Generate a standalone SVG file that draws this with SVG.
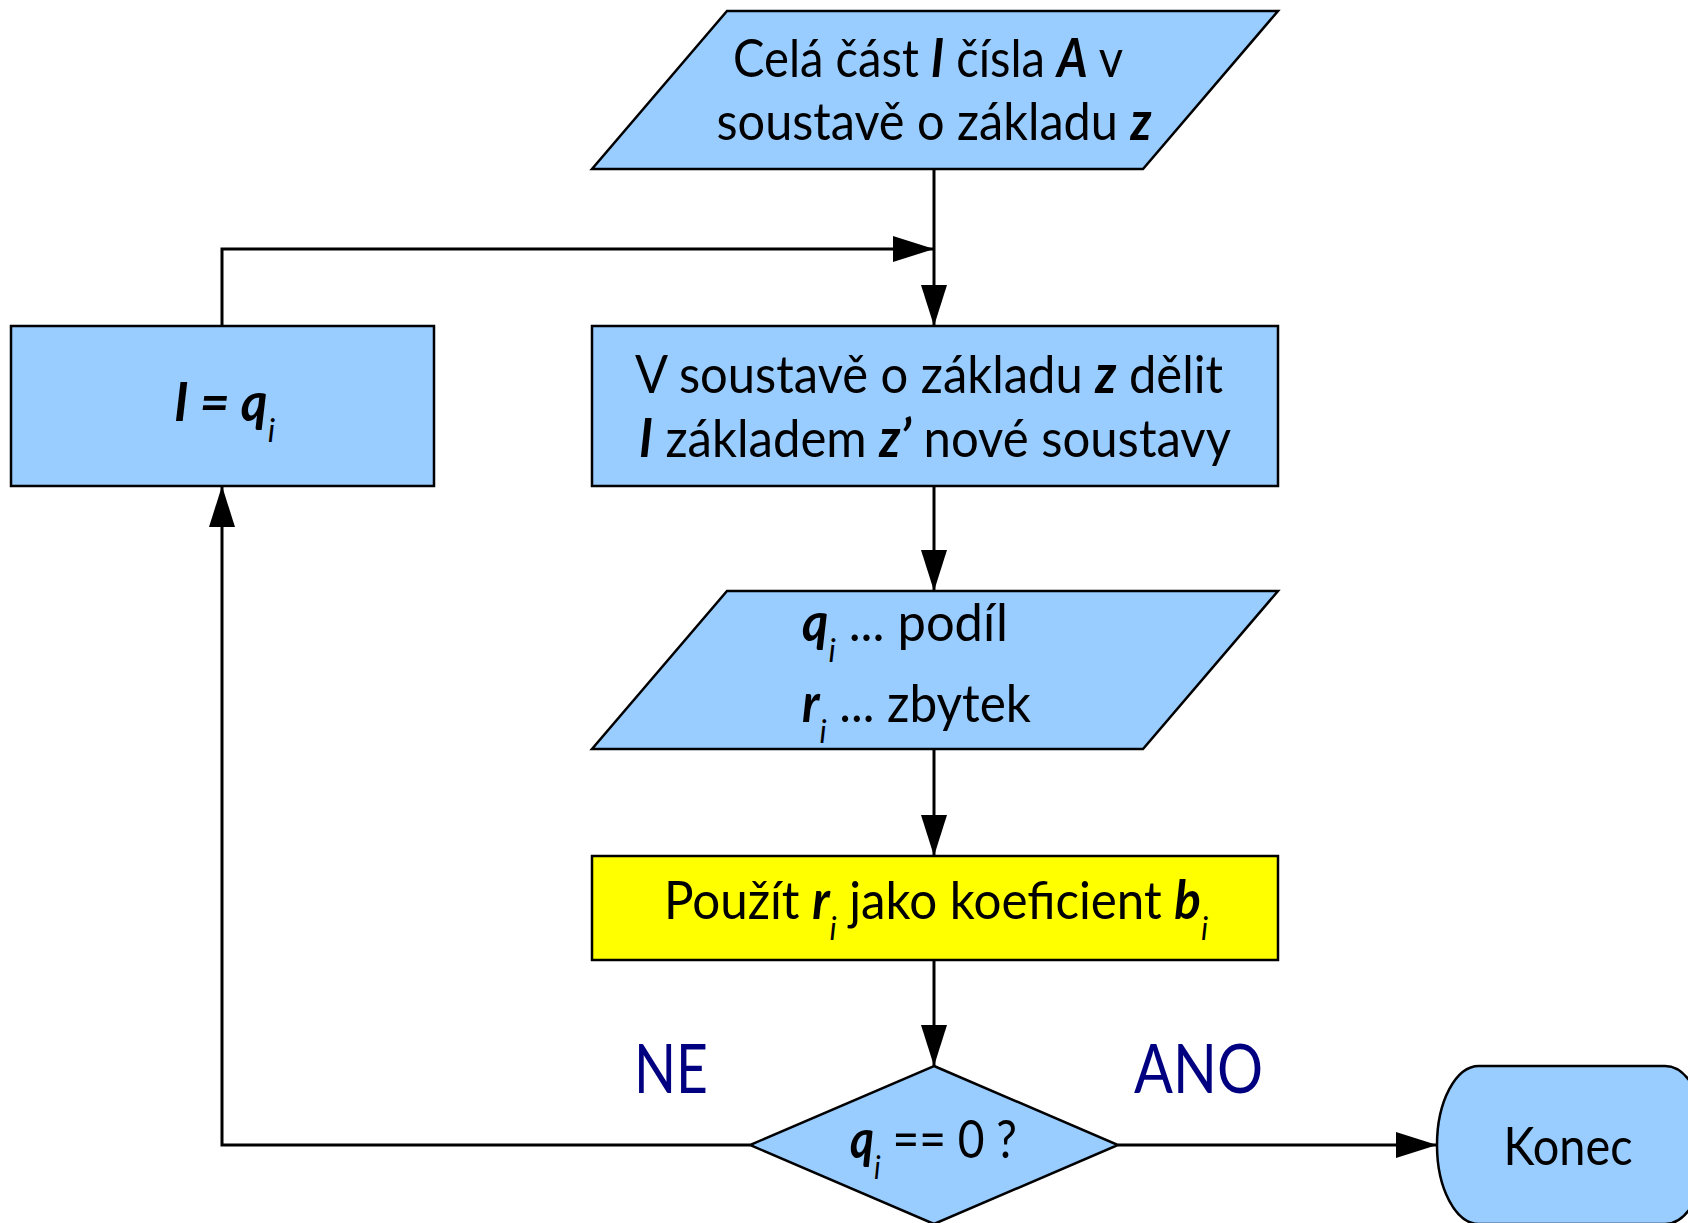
<svg xmlns="http://www.w3.org/2000/svg" width="1688" height="1223" viewBox="0 0 1688 1223">
<style>
.node{fill:#99ccff;stroke:#000;stroke-width:2.5}
.yel{fill:#ffff00;stroke:#000;stroke-width:2.5}
.conn{fill:none;stroke:#000;stroke-width:3}
text{font-family:Lato,"Open Sans","Noto Sans",sans-serif;font-size:53px;fill:#000}
.bi{font-weight:bold;font-style:italic}
.sub{font-style:italic;font-size:33px}
.lbl{font-size:68px;fill:#000080}
</style>
<defs>
<marker id="arr" markerUnits="userSpaceOnUse" markerWidth="42" markerHeight="28" refX="41" refY="13" orient="auto">
<path d="M0,0 L41,13 L0,26 z" fill="#000"/>
</marker>
</defs>
<rect width="1688" height="1223" fill="#fff"/>
<g id="connectors">
<path class="conn" d="M934,169 V326" marker-end="url(#arr)"/>
<path class="conn" d="M222,326 V249 H934" marker-end="url(#arr)"/>
<path class="conn" d="M934,486 V591" marker-end="url(#arr)"/>
<path class="conn" d="M934,749 V856" marker-end="url(#arr)"/>
<path class="conn" d="M934,960 V1066" marker-end="url(#arr)"/>
<path class="conn" d="M1118,1145 H1437" marker-end="url(#arr)"/>
<path class="conn" d="M750,1145 H222 V486" marker-end="url(#arr)"/>
</g>
<g id="start">
<polygon class="node" points="727,11 1278,11 1143,169 592,169"/>
<text x="928" y="77" text-anchor="middle" textLength="390" lengthAdjust="spacingAndGlyphs">Celá část <tspan class="bi">I</tspan> čísla <tspan class="bi">A</tspan> v</text>
<text x="934" y="140" text-anchor="middle" textLength="435" lengthAdjust="spacingAndGlyphs">soustavě o základu <tspan class="bi">z</tspan></text>
</g>
<g id="divide">
<rect class="node" x="592" y="326" width="686" height="160"/>
<text x="929" y="393" text-anchor="middle" textLength="588" lengthAdjust="spacingAndGlyphs">V soustavě o základu <tspan class="bi">z</tspan> dělit</text>
<text x="935" y="457" text-anchor="middle" textLength="592" lengthAdjust="spacingAndGlyphs"><tspan class="bi">I</tspan> základem <tspan class="bi">z’</tspan> nové soustavy</text>
</g>
<g id="assign">
<rect class="node" x="11" y="326" width="423" height="160"/>
<text x="174" y="421" textLength="101" lengthAdjust="spacingAndGlyphs"><tspan class="bi">I = q</tspan><tspan class="sub" dy="21">i</tspan></text>
</g>
<g id="result">
<polygon class="node" points="727,591 1278,591 1143,749 592,749"/>
<text x="802" y="641" textLength="206" lengthAdjust="spacingAndGlyphs"><tspan class="bi">q</tspan><tspan class="sub" dy="21">i</tspan><tspan dy="-21"> ... podíl</tspan></text>
<text x="802" y="722" textLength="229" lengthAdjust="spacingAndGlyphs"><tspan class="bi">r</tspan><tspan class="sub" dy="21">i</tspan><tspan dy="-21"> ... zbytek</tspan></text>
</g>
<g id="use">
<rect class="yel" x="592" y="856" width="686" height="104"/>
<text x="664" y="919" textLength="544" lengthAdjust="spacingAndGlyphs">Použít <tspan class="bi">r</tspan><tspan class="sub" dy="21">i</tspan><tspan dy="-21"> jako koeficient </tspan><tspan class="bi">b</tspan><tspan class="sub" dy="21">i</tspan></text>
</g>
<g id="decision">
<polygon class="node" points="934,1066 1118,1145 934,1224 750,1145"/>
<text x="850" y="1158" textLength="167" lengthAdjust="spacingAndGlyphs"><tspan class="bi">q</tspan><tspan class="sub" dy="21">i</tspan><tspan dy="-21"> == 0 ?</tspan></text>
<text class="lbl" x="634" y="1093" textLength="74" lengthAdjust="spacingAndGlyphs">NE</text>
<text class="lbl" x="1134" y="1093" textLength="129" lengthAdjust="spacingAndGlyphs">ANO</text>
</g>
<g id="end">
<rect class="node" x="1437" y="1066" width="270" height="158" rx="42" ry="79"/>
<text x="1568" y="1165" text-anchor="middle" textLength="129" lengthAdjust="spacingAndGlyphs">Konec</text>
</g>
</svg>
